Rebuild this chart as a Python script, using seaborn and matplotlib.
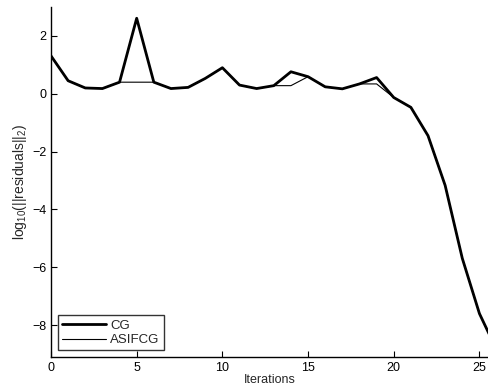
import numpy as np
import pandas as pd
import matplotlib
matplotlib.use("Agg")
import matplotlib.pyplot as plt
import seaborn as sns

# data
iterations = list(range(27))
cg = [1.31, 0.45, 0.20, 0.18, 0.40, 2.61, 0.40, 0.18, 0.22, 0.53,
      0.90, 0.30, 0.18, 0.28, 0.76, 0.59, 0.24, 0.17, 0.34, 0.56,
      -0.13, -0.47, -1.45, -3.17, -5.69, -7.60, -8.85]
asifcg = [1.31, 0.45, 0.20, 0.18, 0.40, 0.40, 0.40, 0.18, 0.22, 0.53,
          0.90, 0.30, 0.18, 0.28, 0.28, 0.59, 0.24, 0.17, 0.34, 0.34,
          -0.13, -0.47, -1.45, -3.17, -5.69, -7.60, -8.85]

df = pd.DataFrame({"Iterations": iterations, "CG": cg, "ASIFCG": asifcg})

sns.set_style("ticks")
plt.rcParams['font.family'] = ['Liberation Sans', 'DejaVu Sans']
plt.rcParams['mathtext.fontset'] = 'custom'
plt.rcParams['mathtext.rm'] = 'Liberation Sans'
plt.rcParams['mathtext.it'] = 'Liberation Sans'

fig = plt.figure(figsize=(4.88, 3.88), dpi=100)
ax = fig.add_axes([0.1045, 0.080, 0.8955, 0.902])

sns.lineplot(data=df, x="Iterations", y="CG", ax=ax, color="black", lw=2.0, label="CG")
sns.lineplot(data=df, x="Iterations", y="ASIFCG", ax=ax, color="black", lw=0.8, label="ASIFCG")

ax.set_xlim(0, 25.5)
ax.set_ylim(-9.1, 3)
ax.set_xticks([0, 5, 10, 15, 20, 25])
ax.set_yticks([-8, -6, -4, -2, 0, 2])
ax.set_yticklabels(["\u22128", "\u22126", "\u22124", "\u22122", "0", "2"])
ax.tick_params(direction="in", length=4, width=0.8, labelsize=9, colors="black")
ax.set_xlabel("Iterations", fontsize=9, labelpad=0)
ax.set_ylabel(r"log$_{10}$(||residuals||$_2$)", fontsize=10, labelpad=2)
sns.despine(ax=ax)
for s in ["left", "bottom"]:
    ax.spines[s].set_linewidth(1.0)
    ax.spines[s].set_color("black")

leg = ax.legend(loc="lower left", fontsize=9.5, frameon=True, fancybox=False,
                borderaxespad=0.5, handlelength=3.4, handletextpad=0.3,
                labelspacing=0.2, borderpad=0.3)
leg.get_frame().set_edgecolor("black")
leg.get_frame().set_linewidth(1.0)

fig.savefig("out.png", dpi=100)
